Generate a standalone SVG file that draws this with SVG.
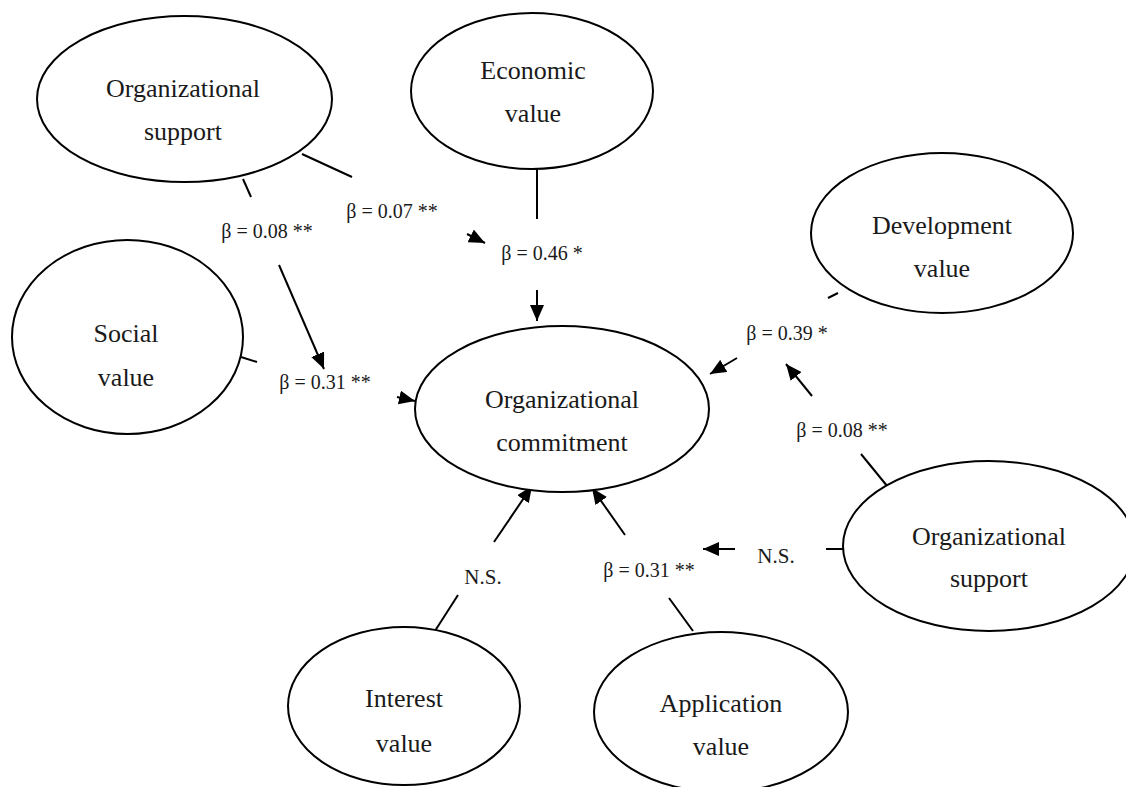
<svg xmlns="http://www.w3.org/2000/svg" width="1126" height="787" viewBox="0 0 1126 787">
<defs>
<style>
.node ellipse{fill:#fff;stroke:#000;stroke-width:2}
.node text{font-family:"Liberation Serif","Times New Roman",serif;font-size:26px;fill:#1a1a1a;text-anchor:middle}
.lbl{font-family:"Liberation Serif","Times New Roman",serif;font-size:20px;fill:#1a1a1a;text-anchor:middle}
.ns{font-size:21px}
#connectors line{stroke:#000;stroke-width:2;fill:none}
#connectors line.arr{marker-end:url(#ah)}
</style>
<marker id="ah" markerUnits="userSpaceOnUse" markerWidth="16" markerHeight="14" refX="16" refY="7" orient="auto">
<path d="M0,0 L16,7 L0,14 z" fill="#000"/>
</marker>
</defs>
<rect width="1126" height="787" fill="#fff"/>

<g id="connectors">
<line x1="243" y1="179" x2="251" y2="197"/>
<line class="arr" x1="279" y1="265" x2="324" y2="369"/>
<line x1="302" y1="154" x2="352" y2="177"/>
<line class="arr" x1="467" y1="234" x2="485" y2="243"/>
<line x1="537" y1="160" x2="537" y2="219"/>
<line class="arr" x1="537" y1="290" x2="537" y2="321"/>
<line x1="838" y1="293" x2="828" y2="298"/>
<line class="arr" x1="737" y1="358" x2="710" y2="374"/>
<line x1="892" y1="492" x2="861" y2="454"/>
<line class="arr" x1="812" y1="396" x2="786" y2="364"/>
<line x1="844" y1="549" x2="826" y2="549"/>
<line class="arr" x1="735" y1="549" x2="703" y2="549"/>
<line x1="241" y1="357" x2="257" y2="362"/>
<line class="arr" x1="397" y1="397" x2="415" y2="401"/>
<line x1="433" y1="634" x2="458" y2="595"/>
<line class="arr" x1="494" y1="542" x2="532" y2="486"/>
<line x1="693" y1="631" x2="669" y2="598"/>
<line class="arr" x1="625" y1="535" x2="592" y2="488"/>
<text class="lbl" x="267" y="238">β = 0.08 **</text>
<text class="lbl" x="392" y="218">β = 0.07 **</text>
<text class="lbl" x="542" y="260">β = 0.46 *</text>
<text class="lbl" x="787" y="340">β = 0.39 *</text>
<text class="lbl" x="842" y="437">β = 0.08 **</text>
<text class="lbl ns" x="776" y="563">N.S.</text>
<text class="lbl" x="649" y="577">β = 0.31 **</text>
<text class="lbl ns" x="483" y="584">N.S.</text>
<text class="lbl" x="325" y="389">β = 0.31 **</text>
</g>

<g id="org-support-left" class="node">
<ellipse cx="184.5" cy="99" rx="147.5" ry="83"/>
<text x="183" y="97">Organizational</text>
<text x="183" y="140">support</text>
</g>
<g id="economic-value" class="node">
<ellipse cx="532" cy="91" rx="121" ry="78"/>
<text x="533" y="79">Economic</text>
<text x="533" y="122">value</text>
</g>
<g id="development-value" class="node">
<ellipse cx="942" cy="233" rx="131" ry="80"/>
<text x="942" y="234">Development</text>
<text x="942" y="277">value</text>
</g>
<g id="social-value" class="node">
<ellipse cx="127.5" cy="337" rx="115.5" ry="97"/>
<text x="126" y="342">Social</text>
<text x="126" y="386">value</text>
</g>
<g id="organizational-commitment" class="node">
<ellipse cx="562" cy="409" rx="147" ry="83"/>
<text x="562" y="408">Organizational</text>
<text x="562" y="451">commitment</text>
</g>
<g id="org-support-right" class="node">
<ellipse cx="989" cy="546" rx="146" ry="85"/>
<text x="989" y="545">Organizational</text>
<text x="989" y="587">support</text>
</g>
<g id="interest-value" class="node">
<ellipse cx="404" cy="706" rx="116" ry="79"/>
<text x="404" y="707">Interest</text>
<text x="404" y="752">value</text>
</g>
<g id="application-value" class="node">
<ellipse cx="721" cy="712" rx="127" ry="80"/>
<text x="721" y="712">Application</text>
<text x="721" y="755">value</text>
</g>
</svg>
